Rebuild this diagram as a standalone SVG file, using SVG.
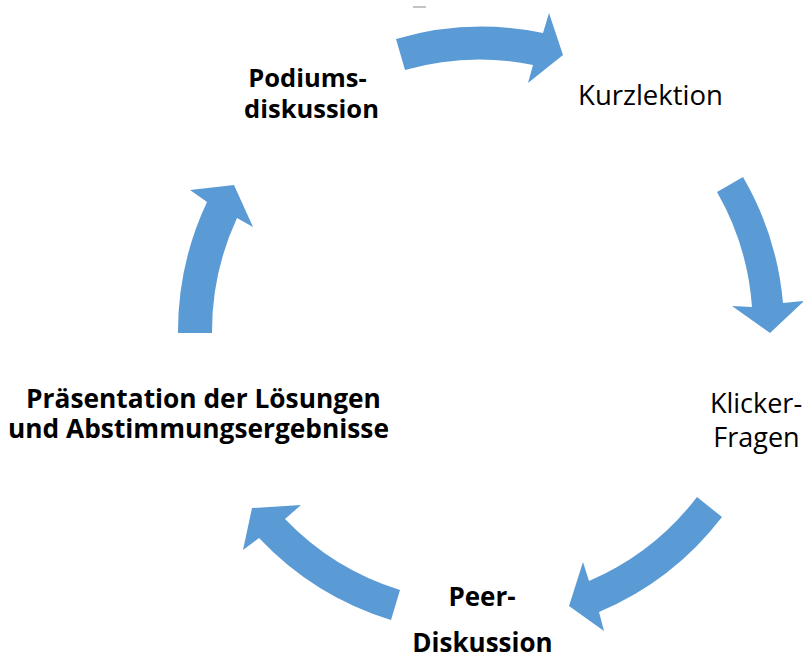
<svg xmlns="http://www.w3.org/2000/svg" width="803" height="657" viewBox="0 0 803 657">
<style>
.arrow{fill:#5B9BD5;stroke:none}
.t{font-family:"Open Sans","Liberation Sans",sans-serif;fill:#000;text-anchor:middle}
.b{font-weight:bold}
</style>
<rect width="803" height="657" fill="#fff"/>
<line x1="413" y1="7" x2="426" y2="7" stroke="#b0b0b0" stroke-width="1.5"/>
<g id="connectors">
<path class="arrow" d="M 396 39 A 304 304 0 0 1 543 33 L 549 13 L 563 55 L 528 83 L 533 65 A 270 270 0 0 0 405 70 Z"/>
<path class="arrow" d="M 743 177 A 304 304 0 0 1 783 303 L 804 301 L 770 333 L 732 306 L 752 307 A 270 270 0 0 0 717 192 Z"/>
<path class="arrow" d="M 722 517 A 304 304 0 0 1 599 612 L 604 631 L 569 606 L 583 562 L 589 581 A 270 270 0 0 0 697 497 Z"/>
<path class="arrow" d="M 391 620 A 304 304 0 0 1 259 538 L 243 550 L 252 508 L 301 505 L 285 519 A 270 270 0 0 0 400 590 Z"/>
<path class="arrow" d="M 178 333 A 304 304 0 0 1 207 202 L 190 190 L 234 185 L 253 227 L 237 218 A 270 270 0 0 0 212 333 Z"/>
</g>
<g id="podiumsdiskussion">
<text class="t b" x="307.5" y="87" font-size="25.5">Podiums-</text>
<text class="t b" x="311.5" y="118" font-size="25.5">diskussion</text>
</g>
<g id="kurzlektion">
<text class="t" x="650.5" y="105" font-size="27.5">Kurzlektion</text>
</g>
<g id="klicker-fragen">
<text class="t" x="756" y="413" font-size="27">Klicker-</text>
<text class="t" x="756.5" y="446.5" font-size="27">Fragen</text>
</g>
<g id="peer-diskussion">
<text class="t b" x="482" y="606" font-size="26">Peer-</text>
<text class="t b" x="482.5" y="652" font-size="26">Diskussion</text>
</g>
<g id="praesentation">
<text class="t b" x="203.5" y="408" font-size="26.3">Präsentation der Lösungen</text>
<text class="t b" x="198.5" y="438" font-size="26.3">und Abstimmungsergebnisse</text>
</g>
</svg>
